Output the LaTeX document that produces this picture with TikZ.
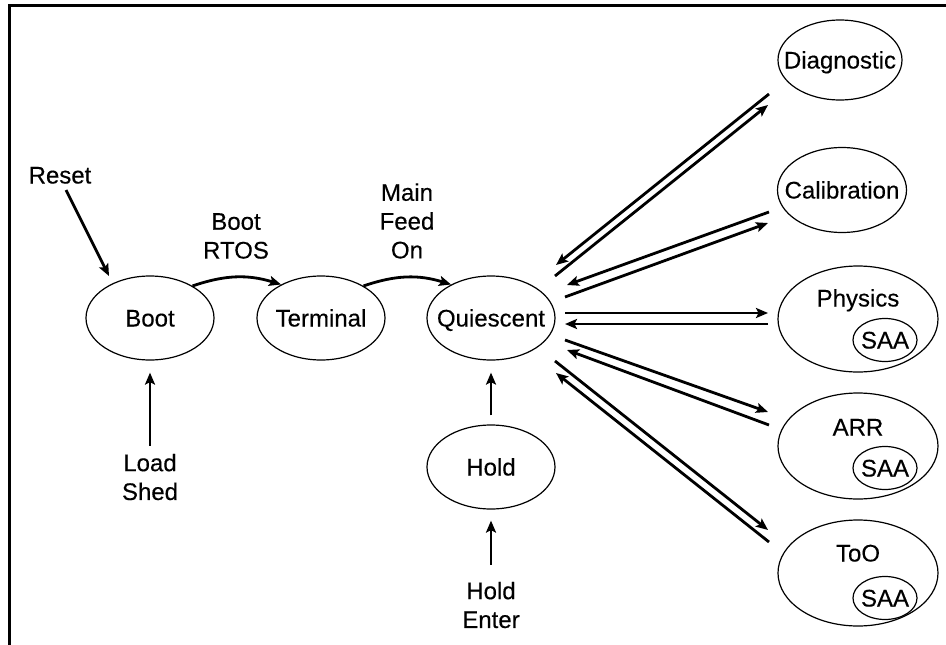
\documentclass[tikz,border=0pt]{standalone}
\usepackage{fontspec}
\setmainfont{Liberation Sans}[FakeBold=0.3]
\usetikzlibrary{arrows.meta,shapes.geometric}
\newcommand{\ztext}[1]{\makebox[0pt]{#1}}
\begin{document}
\begin{tikzpicture}[x=1pt,y=-1pt,
  every node/.style={font=\fontsize{24}{28.8}\selectfont, inner sep=2pt},
  oneline/.style={text height=17pt, text depth=0pt},
  state/.style={ellipse, draw, line width=1.2pt, inner sep=0pt, oneline,
                minimum width=128pt, minimum height=84pt},
  bigstate/.style={ellipse, draw, line width=1.2pt, inner sep=0pt,
                minimum width=160pt, minimum height=106pt},
  saa/.style={ellipse, draw, line width=1.2pt, inner sep=0pt, oneline,
                minimum width=64pt, minimum height=43pt},
  lbl/.style={align=center},
  arr/.style={line width=2.8pt, -{Stealth[length=12pt,width=10pt,inset=2.5pt]}},
]
\useasboundingbox (0,0) rectangle (946,645);
% frame
\draw[line width=3pt] (9,645) -- (9,5) -- (946,5);

% main states
\node[state] (boot)  at (150,318) {\ztext{Boot}};
\node[state] (term)  at (321,318) {\ztext{Terminal}};
\node[state] (quies) at (491,318) {\ztext{Quiescent}};
\node[state] (hold)  at (491,467) {\ztext{Hold}};

% right column
\node[state, minimum width=124pt, minimum height=80pt] (diag)  at (840,60)  {\ztext{Diagnostic}};
\node[state, minimum width=129pt, minimum height=85pt] (calib) at (842,190) {\ztext{Calibration}};

\node[bigstate] (phys) at (858,319) {};
\node[oneline] (physl) at (858,298) {Physics};
\node[saa] (physsaa) at (885,340) {\ztext{SAA}};

\node[bigstate] (arr) at (858,446) {};
\node[oneline] (arrl) at (858,427) {ARR};
\node[saa] (arrsaa) at (885,468) {\ztext{SAA}};

\node[bigstate] (too) at (858,573) {};
\node[oneline] (tool) at (858,553) {ToO};
\node[saa] (toosaa) at (885,598) {\ztext{SAA}};

% labels
\node[oneline] (reset) at (60,175) {Reset};
\node[lbl] (bootrtos) at (236,236) {Boot\\RTOS};
\node[lbl] (mainfeed) at (407,221) {Main\\Feed\\On};
\node[lbl] (loadshed) at (150,477) {Load\\Shed};
\node[lbl] (holdenter) at (491,605) {Hold\\Enter};

% left-side connectors
\coordinate (rsTail) at (66,190);
\coordinate (rsTip) at (109,276);
\draw[arr] (rsTail) -- (rsTip);
\draw[arr] (boot.37) to[bend left=18] (term.140);
\draw[arr] (term.37) to[bend left=18] (quies.140);
\draw[arr, shorten <=6pt, shorten >=12pt] (loadshed.north) -- (boot.south);
\draw[arr, shorten <=9pt, shorten >=12pt] (hold.north) -- (quies.south);
\draw[arr, shorten <=15pt, shorten >=11pt] (holdenter.north) -- (hold.south);

% Diagnostic pair
\coordinate (dA) at (769,94);  \coordinate (dB) at (556,265);
\coordinate (dC) at (555,276); \coordinate (dD) at (768,105);
\draw[arr] (dA) -- (dB);
\draw[arr] (dC) -- (dD);
% Calibration pair
\coordinate (cA) at (769,212); \coordinate (cB) at (567,285);
\coordinate (cC) at (565,297); \coordinate (cD) at (768,223);
\draw[arr] (cA) -- (cB);
\draw[arr] (cC) -- (cD);
% Physics pair
\coordinate (pA) at (565,313); \coordinate (pB) at (768,313);
\coordinate (pC) at (768,324); \coordinate (pD) at (565,324);
\draw[arr] (pA) -- (pB);
\draw[arr] (pC) -- (pD);
% ARR pair
\coordinate (aA) at (565,340); \coordinate (aB) at (768,412);
\coordinate (aC) at (769,425); \coordinate (aD) at (567,350);
\draw[arr] (aA) -- (aB);
\draw[arr] (aC) -- (aD);
% ToO pair
\coordinate (tA) at (555,361); \coordinate (tB) at (768,530);
\coordinate (tC) at (769,542); \coordinate (tD) at (556,373);
\draw[arr] (tA) -- (tB);
\draw[arr] (tC) -- (tD);
\end{tikzpicture}
\end{document}
